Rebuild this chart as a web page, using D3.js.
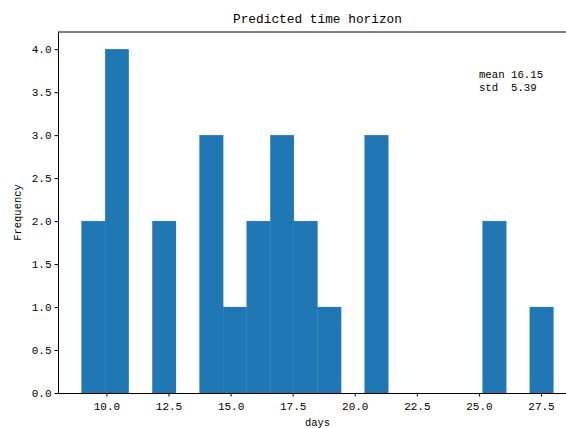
<!DOCTYPE html>
<html>
<head>
<meta charset="utf-8">
<script src="https://cdn.jsdelivr.net/npm/d3@7"></script>
<style>
  body { margin: 0; background: #fff; }
  text { font-family: "Liberation Mono", "DejaVu Sans Mono", monospace; fill: #000; }
</style>
</head>
<body>
<div id="chart"></div>
<script>
// histogram bins (left edges), 20 bins of width 0.95 between 9 and 28
const binLo = [9, 9.95, 10.9, 11.85, 12.8, 13.75, 14.7, 15.65, 16.6, 17.55,
               18.5, 19.45, 20.4, 21.35, 22.3, 23.25, 24.2, 25.15, 26.1, 27.05];
const binHi = [9.95, 10.9, 11.85, 12.8, 13.75, 14.7, 15.65, 16.6, 17.55, 18.5,
               19.45, 20.4, 21.35, 22.3, 23.25, 24.2, 25.15, 26.1, 27.05, 28];
const counts = [2, 4, 0, 2, 0, 3, 1, 2, 3, 2, 1, 0, 3, 0, 0, 0, 0, 2, 0, 1];
const xTicks = [10, 12.5, 15, 17.5, 20, 22.5, 25, 27.5];
const yTicks = [0, 0.5, 1, 1.5, 2, 2.5, 3, 3.5, 4];
const statLines = ["mean 16.15", "std  5.39"];

const width = 566;
const height = 428;
const margin = { top: 32, right: -11, bottom: 35, left: 58 };

const svg = d3.select("#chart").append("svg")
  .attr("width", width)
  .attr("height", height);

const x = d3.scaleLinear()
  .domain([8.05, 28.95])
  .range([margin.left, width - margin.right]);

const y = d3.scaleLinear()
  .domain([0, 4.2])
  .range([height - margin.bottom, margin.top]);

const bins = counts.map((c, i) => ({ lo: binLo[i], hi: binHi[i], n: c }));

svg.append("g")
  .selectAll("rect")
  .data(bins.filter((d) => d.n > 0))
  .join("rect")
  .attr("x", (d) => x(d.lo))
  .attr("width", (d) => x(d.hi) - x(d.lo))
  .attr("y", (d) => y(d.n))
  .attr("height", (d) => y(0) - y(d.n))
  .attr("fill", "#1f77b4")
  .attr("stroke", "#1f77b4")
  .attr("stroke-width", 0.3);

// axes
const fmt = d3.format(".1f");

const xAxis = svg.append("g")
  .attr("transform", `translate(0,${y(0)})`)
  .call(d3.axisBottom(x).tickValues(xTicks).tickFormat(fmt).tickSize(3.5).tickSizeOuter(0));

const yAxis = svg.append("g")
  .attr("transform", `translate(${margin.left},0)`)
  .call(d3.axisLeft(y).tickValues(yTicks).tickFormat(fmt).tickSize(3.5).tickSizeOuter(0));

[xAxis, yAxis].forEach((g) => {
  g.select(".domain").attr("stroke", "#000").attr("stroke-width", 1);
  g.selectAll(".tick line").attr("stroke", "#000");
  g.selectAll(".tick text")
    .attr("fill", "#333")
    .style("font-size", "11px")
    .style("font-family", "'Liberation Mono', monospace");
});
xAxis.selectAll(".tick text").attr("dy", "0.95em");

// top spine
svg.append("line")
  .attr("x1", margin.left)
  .attr("x2", width)
  .attr("y1", y(4.2))
  .attr("y2", y(4.2))
  .attr("stroke", "#000")
  .attr("stroke-width", 1);

// title and labels
svg.append("text")
  .attr("x", x(18.5))
  .attr("y", 23)
  .attr("text-anchor", "middle")
  .style("font-size", "12.8px")
  .text("Predicted time horizon");

svg.append("text")
  .attr("x", x(18.5))
  .attr("y", 426)
  .attr("text-anchor", "middle")
  .style("font-size", "10.5px")
  .text("days");

svg.append("text")
  .attr("transform", `translate(21,${y(2.1)}) rotate(-90)`)
  .attr("text-anchor", "middle")
  .style("font-size", "10.5px")
  .text("Frequency");

// stats annotation
svg.append("g")
  .selectAll("text")
  .data(statLines)
  .join("text")
  .attr("x", x(25.0))
  .attr("y", (d, i) => y(3.67) + i * 13)
  .attr("xml:space", "preserve")
  .style("white-space", "pre")
  .style("font-size", "10.7px")
  .text((d) => d);
</script>
</body>
</html>
